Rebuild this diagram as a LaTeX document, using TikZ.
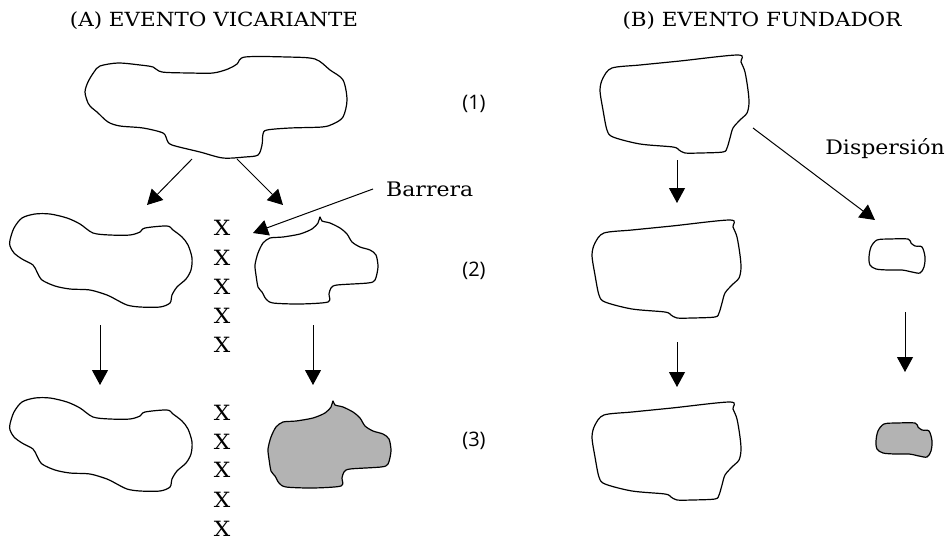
\documentclass[tikz,border=0pt]{standalone}
\usepackage{fontspec}
\setmainfont{DejaVu Serif}[FakeStretch=1.1]
\newfontfamily\numfont{Open Sans}
\usetikzlibrary{arrows.meta}

% island outlines, drawn at their home position
\newcommand\islandWide{plot[smooth cycle, tension=0.5] coordinates {
 (10,240) (14,228) (22,218) (35,214) (50,214) (67,218) (80,224) (93,233)
 (110,235) (130,235) (140,232) (145,228) (167,226) (173,230) (182,237)
 (188,245) (192,258) (191,270) (186,279) (177,287) (172,295) (170,303)
 (160,307) (140,307) (127,305) (115,299) (107,295) (90,290) (70,289)
 (55,286) (42,280) (37,272) (33,265) (22,259) (14,253) (10,246)}}
\newcommand\islandRound{plot[smooth cycle, tension=0.45] coordinates {
 (320,217) (322,221) (330,223) (340,228) (347,234) (352,242) (360,247)
 (370,250) (376,255) (378,267) (375,280) (368,283) (337,285) (331,288)
 (329,294) (328,302) (300,304) (273,303) (266,299) (262,292) (258,287)
 (256,275) (255,265) (258,253) (263,243) (270,238) (283,237) (300,234)
 (312,229) (318,223)}}
\newcommand\islandBig{plot[smooth cycle, tension=0.5] coordinates {
 (85,92) (88,82) (94,72) (100,66) (118,63) (140,65) (153,67) (162,72)
 (190,73) (213,73) (228,69) (237,64) (245,57) (287,57) (315,59) (330,70)
 (343,80) (347,100) (343,117) (333,124) (322,127) (290,128) (267,130)
 (263,134) (262,145) (258,155) (245,157) (223,158) (200,152) (172,145)
 (167,140) (163,133) (143,128) (120,126) (108,122) (97,112) (92,108)
 (88,103)}}
\newcommand\islandBlock{plot[smooth cycle, tension=0.5] coordinates {
 (600,90) (603,78) (612,68) (640,65) (680,61) (738,55) (741,62) (745,72)
 (748,90) (749,103) (747,113) (740,120) (733,128) (730,138) (727,148)
 (723,152) (700,153) (685,153) (679,150) (673,147) (640,144) (613,137)
 (607,130) (603,110)}}
\newcommand\islandSmall{plot[smooth cycle, tension=0.5] coordinates {
 (869,257) (871,247) (877,240) (890,239) (908,239) (911,243) (915,246)
 (922,247) (925,257) (924,267) (920,273) (912,272) (902,270) (888,270)
 (876,269) (870,265)}}

\tikzset{
  island/.style={draw=black, line width=1.2pt, line join=round},
  colonised/.style={island, fill=islandgray},
  flow/.style={line width=1pt, -{Triangle[length=15pt,width=16pt]}},
  heading/.style={font=\fontsize{19.5}{22}\selectfont, inner sep=0pt},
  label/.style={font=\fontsize{20}{22}\selectfont, inner sep=0pt},
  stage/.style={font=\numfont\fontsize{20}{22}\selectfont, inner sep=0pt},
  barrier/.style={font=\fontsize{21}{22}\selectfont, inner sep=0pt}
}
\definecolor{islandgray}{HTML}{B3B3B3}

\begin{document}
\begin{tikzpicture}[x=1pt, y=-1pt]
\useasboundingbox (0,0) rectangle (950,541);

% headings
\node[heading] (titleA) at (214,21) {(A) EVENTO VICARIANTE};
\node[heading] (titleB) at (762,21) {(B) EVENTO FUNDADOR};

% stage numbers
\node[stage] (s1) at (474,104) {(1)};
\node[stage] (s2) at (474,271) {(2)};
\node[stage] (s3) at (474,441) {(3)};

% (A) vicariant event
\draw[island] \islandBig;
\draw[island] \islandWide;
\draw[island] \islandRound;
\draw[island, shift={(0,184)}] \islandWide;
\draw[colonised, shift={(13,184)}] \islandRound;

\foreach \i/\y in {1/228,2/258,3/287,4/316,5/345}
  \node[barrier] (xa\i) at (222,\y) {X};
\foreach \i/\y in {1/413,2/442,3/470,4/500,5/529}
  \node[barrier] (xb\i) at (222,\y) {X};

\coordinate (a1s) at (192,159); \coordinate (a1e) at (147,205);
\coordinate (a2s) at (237,159); \coordinate (a2e) at (283,205);
\coordinate (a3s) at (100,325); \coordinate (a3e) at (100,385);
\coordinate (a4s) at (313,325); \coordinate (a4e) at (313,385);
\draw[flow] (a1s) -- (a1e);
\draw[flow] (a2s) -- (a2e);
\draw[flow] (a3s) -- (a3e);
\draw[flow] (a4s) -- (a4e);

\node[label, anchor=west] (barrera) at (386,189) {Barrera};
\coordinate (bartip) at (253,233);
\draw[flow] (barrera.west) ++(-13,0) coordinate (barfrom) (barfrom) -- (bartip);

% (B) founder event
\draw[island] \islandBlock;
\draw[island, shift={(-8,165)}] \islandBlock;
\draw[island, shift={(-8,347)}] \islandBlock;
\draw[island] \islandSmall;
\draw[colonised, shift={(7,184)}] \islandSmall;

\coordinate (b1s) at (677,160); \coordinate (b1e) at (677,203);
\coordinate (b2s) at (677,342); \coordinate (b2e) at (677,387);
\coordinate (b3s) at (905,312); \coordinate (b3e) at (905,372);
\coordinate (ds) at (753,128); \coordinate (de) at (875,220);
\draw[flow] (b1s) -- (b1e);
\draw[flow] (b2s) -- (b2e);
\draw[flow] (b3s) -- (b3e);
\draw[flow] (ds) -- (de);

\node[label] (disp) at (885,149) {Dispersión};
\end{tikzpicture}
\end{document}
